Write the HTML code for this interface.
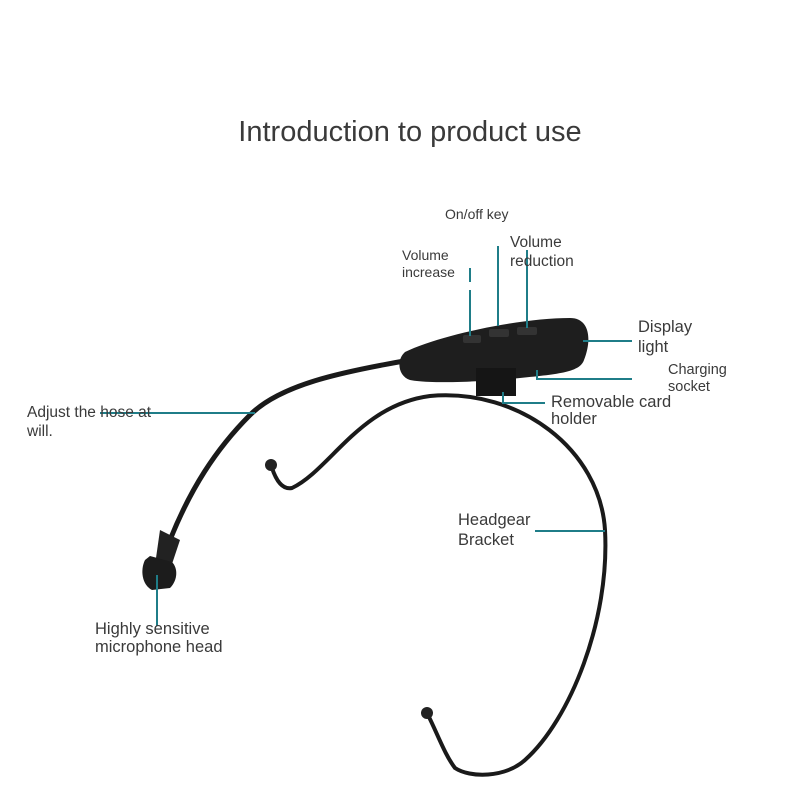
<!DOCTYPE html>
<html><head><meta charset="utf-8"><style>
html,body{margin:0;padding:0;background:#fff;}
svg{display:block;}
text{font-family:"Liberation Sans",sans-serif;fill:#3a3a3a;}
</style></head><body>
<svg width="789" height="789" viewBox="0 0 789 789" xmlns="http://www.w3.org/2000/svg">
<rect width="789" height="789" fill="#fff"/>
<text x="410" y="141" font-size="29" text-anchor="middle" fill="#333">Introduction to product use</text>

<!-- headband -->
<path d="M272,468 C276,480 282,490 292,488 C330,470 360,405 430,396 C520,388 600,450 605,530 C610,620 570,720 525,760 C505,778 470,778 455,768 C445,755 438,735 428,715" fill="none" stroke="#1a1a1a" stroke-width="4" stroke-linecap="round"/>
<circle cx="271" cy="465" r="6" fill="#222"/>
<circle cx="427" cy="713" r="6" fill="#222"/>

<!-- hose -->
<path d="M410,360 C340,372 280,385 250,415 C215,450 190,490 170,540" fill="none" stroke="#1a1a1a" stroke-width="5" stroke-linecap="round"/>
<!-- mic -->
<path d="M160,530 L180,540 L170,570 L155,565 Z" fill="#222"/>
<path d="M145,560 C140,570 142,585 152,590 L170,588 C178,580 178,568 172,562 L150,556 Z" fill="#1c1c1c"/>

<!-- device -->
<path d="M405,352 C440,335 520,318 570,318 C590,318 592,340 584,360 C580,372 560,374 520,378 C480,382 430,384 410,380 C398,376 396,360 405,352 Z" fill="#1e1e1e"/>
<rect x="476" y="368" width="40" height="28" fill="#151515"/>
<rect x="463" y="335" width="18" height="8" rx="2" fill="#333"/>
<rect x="489" y="329" width="20" height="8" rx="2" fill="#333"/>
<rect x="517" y="327" width="20" height="8" rx="2" fill="#333"/>

<!-- connectors -->
<g stroke="#1f7d88" stroke-width="2" fill="none">
<line x1="498" y1="246" x2="498" y2="326"/>
<line x1="470" y1="268" x2="470" y2="282"/>
<line x1="470" y1="290" x2="470" y2="336"/>
<line x1="527" y1="250" x2="527" y2="328"/>
<line x1="583" y1="341" x2="632" y2="341"/>
<polyline points="537,370 537,379 632,379"/>
<polyline points="503,392 503,403 545,403"/>
<line x1="100" y1="413" x2="255" y2="413"/>
<line x1="535" y1="531" x2="605" y2="531"/>
<line x1="157" y1="575" x2="157" y2="626"/>
</g>

<text x="445" y="219" font-size="14">On/off key</text>
<text x="402" y="260" font-size="14">Volume</text>
<text x="402" y="277" font-size="14">increase</text>
<text x="510" y="247" font-size="15.5">Volume</text>
<text x="510" y="266" font-size="15.5">reduction</text>
<text x="638" y="332" font-size="16.5">Display</text>
<text x="638" y="352" font-size="16.5">light</text>
<text x="668" y="374" font-size="14.5">Charging</text>
<text x="668" y="391" font-size="14.5">socket</text>
<text x="551" y="407" font-size="16.5">Removable card</text>
<text x="551" y="424" font-size="16.5">holder</text>
<text x="27" y="417" font-size="15.5">Adjust the hose at</text>
<text x="27" y="436" font-size="15.5">will.</text>
<text x="458" y="525" font-size="16.5">Headgear</text>
<text x="458" y="545" font-size="16.5">Bracket</text>
<text x="95" y="634" font-size="16.5">Highly sensitive</text>
<text x="95" y="652" font-size="16.5">microphone head</text>
</svg>
</body></html>
